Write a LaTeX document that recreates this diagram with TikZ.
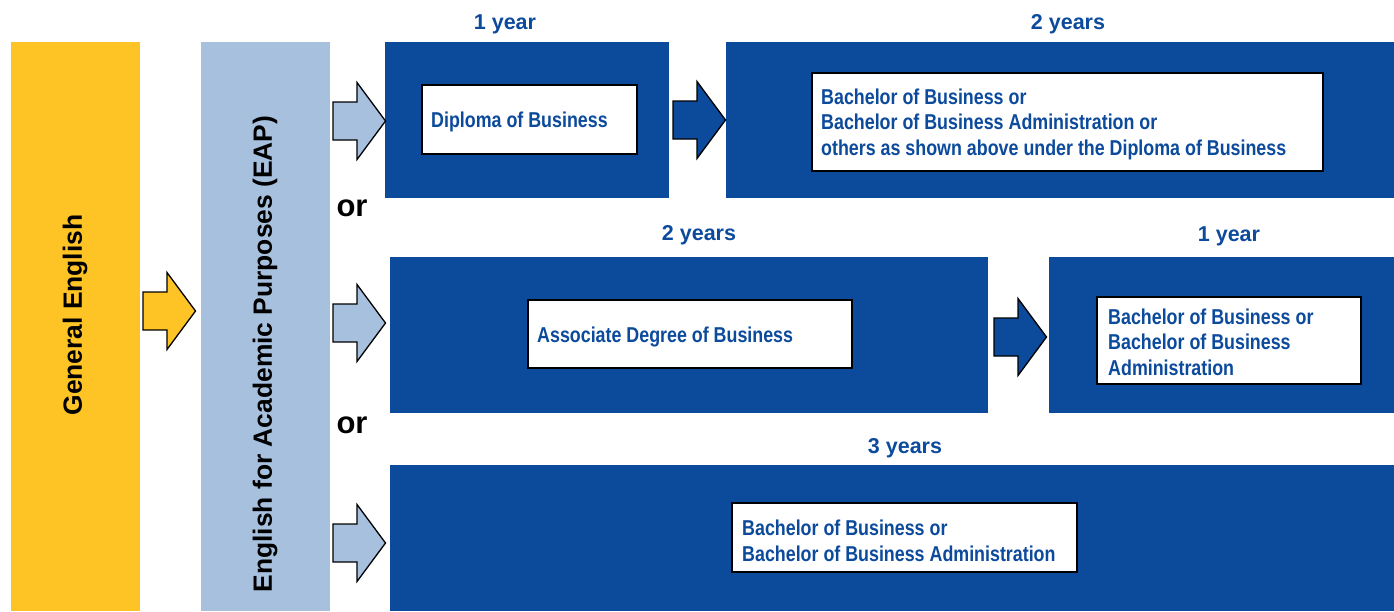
\documentclass[tikz,border=0pt]{standalone}
\usepackage{fontspec}
\setmainfont{Liberation Sans}
\newfontfamily\condfont[FakeStretch=0.83]{Liberation Sans}
\definecolor{ublue}{RGB}{12,74,156}
\definecolor{uyellow}{RGB}{254,196,37}
\definecolor{ulight}{RGB}{166,192,222}
\newcommand\blockarr[3]{%
  \draw[arrowshape,#1] (#2,#3-19) -- ++(24,0) -- ++(0,-19.5) -- (#2+52.5,#3)
    -- (#2+24,#3+38.5) -- ++(0,-19.5) -- (#2,#3+19) -- cycle;}
\tikzset{
  arrowshape/.style={draw=black, line width=1.3pt, line join=miter},
  whitebox/.style={fill=white, draw=black, line width=2pt},
  yearlabel/.style={font=\fontsize{21.5}{25}\selectfont\bfseries, text=ublue, anchor=base, inner sep=0pt},
  boxtext/.style={font=\condfont\bfseries\fontsize{21.5}{25.5}\selectfont, text=ublue, align=left, inner sep=0pt},
  vtext/.style={rotate=90, font=\fontsize{26.4}{30}\selectfont\bfseries, inner sep=0pt},
  ortext/.style={font=\fontsize{31}{36}\selectfont\bfseries, inner sep=0pt},
}
\begin{document}
\begin{tikzpicture}[x=1pt,y=-1pt]
\useasboundingbox (0,0) rectangle (1394,611);
% left bars
\fill[uyellow] (11,42) rectangle (140,611);
\fill[ulight] (201,42) rectangle (330,611);
\node[vtext] (ge) at (75,315) {General English};
\node[vtext] (eap) at (265,354) {English for Academic Purposes (EAP)};
% blue panels
\fill[ublue] (385,42) rectangle (669,198);
\fill[ublue] (726,42) rectangle (1394,198);
\fill[ublue] (390,257) rectangle (988,413);
\fill[ublue] (1049,257) rectangle (1394,413);
\fill[ublue] (390,465) rectangle (1394,611);
% white boxes
\draw[whitebox] (422,85) rectangle (637,154);
\draw[whitebox] (812,73) rectangle (1323,171);
\draw[whitebox] (528,300) rectangle (852,368);
\draw[whitebox] (1097,297) rectangle (1361,384);
\draw[whitebox] (732,503) rectangle (1077,572);
% arrows
\blockarr{fill=uyellow}{143}{311}
\blockarr{fill=ulight}{333}{121}
\blockarr{fill=ulight}{333}{323}
\blockarr{fill=ulight}{333}{543}
\blockarr{fill=ublue}{673}{120}
\blockarr{fill=ublue}{994}{337}
% or
\node[ortext] (or1) at (352,208) {or};
\node[ortext] (or2) at (352,425) {or};
% year labels
\node[yearlabel] (y1) at (505,29) {1 year};
\node[yearlabel] (y2) at (1068,29) {2 years};
\node[yearlabel] (y3) at (699,240) {2 years};
\node[yearlabel] (y4) at (1229,241) {1 year};
\node[yearlabel] (y5) at (905,453) {3 years};
% box texts
\node[boxtext, anchor=base west] (t1) at (431,127) {Diploma of Business};
\node[boxtext, anchor=west] (t2) at (821,124) {Bachelor of Business or\\Bachelor of Business Administration or\\others as shown above under the Diploma of Business};
\node[boxtext, anchor=base west] (t3) at (537,342) {Associate Degree of Business};
\node[boxtext, anchor=west] (t4) at (1108,342) {Bachelor of Business or\\Bachelor of Business\\Administration};
\node[boxtext, anchor=west] (t5) at (742,541) {Bachelor of Business or\\Bachelor of Business Administration};
\end{tikzpicture}
\end{document}
